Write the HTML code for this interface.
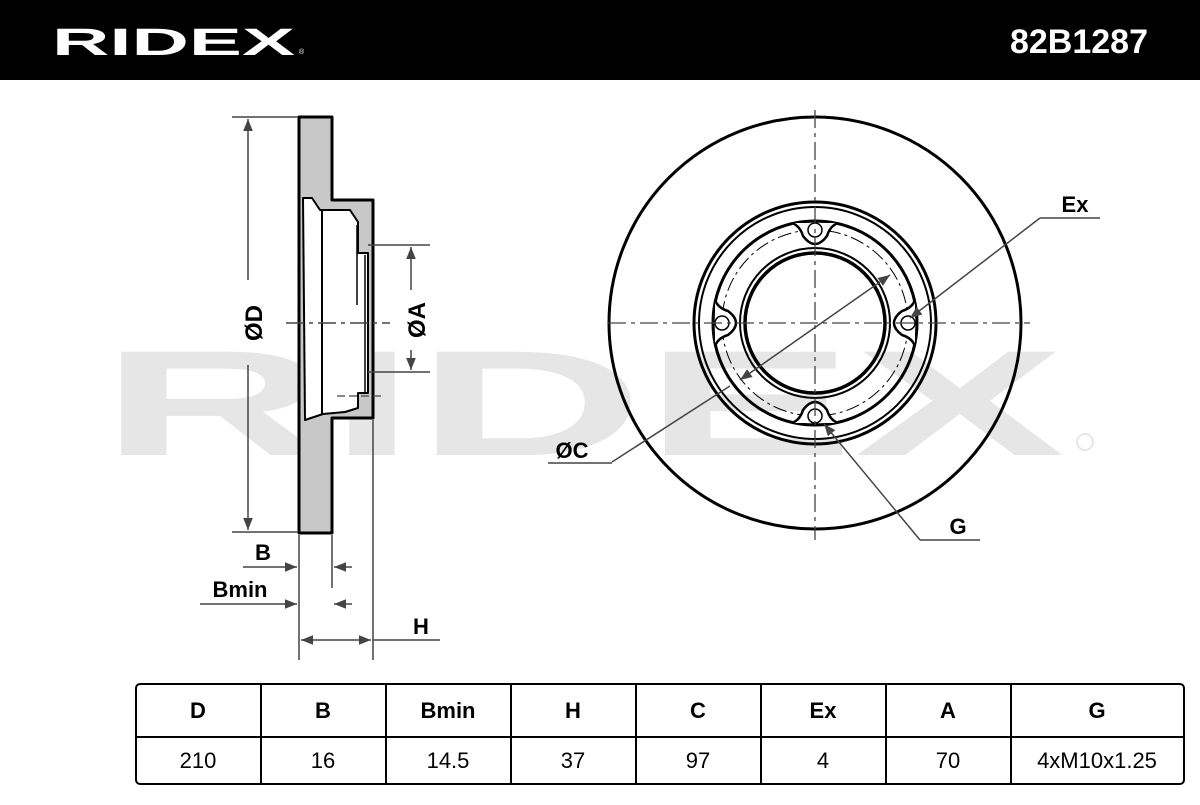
<!DOCTYPE html>
<html><head><style>
body{margin:0;width:1200px;height:800px;overflow:hidden;background:#fff;font-family:"Liberation Sans",sans-serif}
</style></head><body>
<svg width="1200" height="800" viewBox="0 0 1200 800" xmlns="http://www.w3.org/2000/svg" font-family="Liberation Sans, sans-serif">
<defs>
<marker id="ar" viewBox="0 0 10 10" refX="10" refY="5" markerWidth="12" markerHeight="12" markerUnits="userSpaceOnUse" orient="auto-start-reverse"><path d="M0,1 L10,5 L0,9 z" fill="#444"/></marker>
</defs>
<rect x="0" y="0" width="1200" height="80" fill="#000"/>
<text x="52" y="55" fill="#fff" font-size="38" font-weight="bold" textLength="243" lengthAdjust="spacingAndGlyphs">RIDEX</text>
<text x="299" y="54" fill="#fff" font-size="7">®</text>
<text x="1148" y="53" fill="#fff" font-size="34" font-weight="bold" text-anchor="end">82B1287</text>
<!-- watermark -->
<text x="100" y="455" fill="#e6e6e6" font-size="150" font-weight="bold" textLength="965" lengthAdjust="spacingAndGlyphs">RIDEX</text>
<circle cx="1085" cy="442" r="8" fill="none" stroke="#e6e6e6" stroke-width="2"/>

<!-- left profile -->
<g stroke="#000" stroke-width="3" stroke-linejoin="round">
<path d="M299,117 H332 V200 H373 V418 H332 V533 H299 Z" fill="#c8c8c8"/>
<path d="M303,198 H312 L320,210 H350 L358,222 V253 H368 V393 H358 V408 L345,412 L323,414 L305,420 Z" fill="#fff" stroke-width="2"/>
</g>
<line x1="322" y1="210" x2="322" y2="415" stroke="#000" stroke-width="2"/>
<line x1="357" y1="225" x2="357" y2="305" stroke="#000" stroke-width="1.5"/>
<line x1="365" y1="255" x2="365" y2="392" stroke="#000" stroke-width="1.5"/>
<line x1="286" y1="323" x2="390" y2="323" stroke="#444" stroke-width="1.5" stroke-dasharray="18,5,4,5"/>
<line x1="337" y1="396" x2="382" y2="396" stroke="#444" stroke-width="1.3" stroke-dasharray="8,4"/>
<!-- dimension lines -->
<g stroke="#444" stroke-width="1.5" fill="none">
<line x1="232" y1="117" x2="298" y2="117"/>
<line x1="232" y1="532" x2="298" y2="532"/>
<line x1="248" y1="119" x2="248" y2="280" marker-start="url(#ar)"/>
<line x1="248" y1="365" x2="248" y2="530" marker-end="url(#ar)"/>
<line x1="368" y1="245" x2="430" y2="245"/>
<line x1="368" y1="372" x2="430" y2="372"/>
<line x1="411" y1="247" x2="411" y2="290" marker-start="url(#ar)"/>
<line x1="411" y1="350" x2="411" y2="370" marker-end="url(#ar)"/>
<line x1="299" y1="535" x2="299" y2="660"/>
<line x1="332" y1="535" x2="332" y2="588"/>
<line x1="373" y1="420" x2="373" y2="660"/>
<line x1="243" y1="567" x2="297" y2="567" marker-end="url(#ar)"/>
<line x1="352" y1="567" x2="334" y2="567" marker-end="url(#ar)"/>
<line x1="200" y1="604" x2="297" y2="604" marker-end="url(#ar)"/>
<line x1="352" y1="604" x2="334" y2="604" marker-end="url(#ar)"/>
<line x1="301" y1="640" x2="371" y2="640" marker-start="url(#ar)" marker-end="url(#ar)"/>
<line x1="373" y1="640" x2="440" y2="640"/>
</g>
<text transform="translate(262,323) rotate(-90)" font-size="24" font-weight="bold" text-anchor="middle">ØD</text>
<text transform="translate(425,320) rotate(-90)" font-size="24" font-weight="bold" text-anchor="middle">ØA</text>
<text x="263" y="560" font-size="22" font-weight="bold" text-anchor="middle">B</text>
<text x="240" y="597" font-size="22" font-weight="bold" text-anchor="middle">Bmin</text>
<text x="421" y="634" font-size="22" font-weight="bold" text-anchor="middle">H</text>

<!-- right front view -->
<g fill="none" stroke="#000">
<circle cx="815" cy="323" r="206" stroke-width="3"/>
<circle cx="815" cy="323" r="121" stroke-width="3"/>
<circle cx="815" cy="323" r="116" stroke-width="2"/>
<circle cx="815" cy="323" r="102" stroke-width="3"/>
<circle cx="815" cy="323" r="93" stroke-width="1" stroke-dasharray="14,4,3,4"/>
<circle cx="815" cy="323" r="75" stroke-width="2"/>
<circle cx="815" cy="323" r="70" stroke-width="3.5"/>
</g>
<g fill="#fff" stroke="#000" stroke-width="2.5" stroke-linejoin="round">
<g id="lug"><path d="M792,223 Q800,226 803,236 Q815,252 827,236 Q830,226 838,223"/></g>
<use href="#lug" transform="rotate(90 815 323)"/>
<use href="#lug" transform="rotate(180 815 323)"/>
<use href="#lug" transform="rotate(270 815 323)"/>
</g>
<g fill="none" stroke="#000" stroke-width="1.5">
<circle cx="815" cy="230" r="7"/><circle cx="815" cy="416" r="7"/>
<circle cx="722" cy="323" r="7"/><circle cx="908" cy="323" r="7"/>
</g>
<g stroke="#444" stroke-width="1.3" stroke-dasharray="18,5,4,5">
<line x1="608" y1="323" x2="1030" y2="323"/>
<line x1="815" y1="110" x2="815" y2="540"/>
</g>
<g stroke="#444" stroke-width="1.5" fill="none">
<line x1="612" y1="462" x2="730" y2="386"/>
<line x1="740" y1="380" x2="890" y2="275" marker-start="url(#ar)" marker-end="url(#ar)"/>
<line x1="548" y1="463" x2="612" y2="463"/>
<line x1="1040" y1="218" x2="910" y2="318" marker-end="url(#ar)"/>
<line x1="1040" y1="218" x2="1100" y2="218"/>
<line x1="920" y1="540" x2="824" y2="424" marker-end="url(#ar)"/>
<line x1="920" y1="540" x2="980" y2="540"/>
</g>
<text x="1075" y="212" font-size="22" font-weight="bold" text-anchor="middle">Ex</text>
<text x="572" y="458" font-size="22" font-weight="bold" text-anchor="middle">ØC</text>
<text x="958" y="534" font-size="22" font-weight="bold" text-anchor="middle">G</text>

<!-- table -->
<g stroke="#000" stroke-width="2" fill="none">
<rect x="136" y="684" width="1048" height="100" rx="4"/>
<line x1="136" y1="737" x2="1184" y2="737"/>
<line x1="261" y1="684" x2="261" y2="784"/>
<line x1="386" y1="684" x2="386" y2="784"/>
<line x1="511" y1="684" x2="511" y2="784"/>
<line x1="636" y1="684" x2="636" y2="784"/>
<line x1="761" y1="684" x2="761" y2="784"/>
<line x1="886" y1="684" x2="886" y2="784"/>
<line x1="1011" y1="684" x2="1011" y2="784"/>
</g>
<g font-size="22" font-weight="bold" text-anchor="middle">
<text x="198" y="718">D</text><text x="323" y="718">B</text><text x="448" y="718">Bmin</text><text x="573" y="718">H</text>
<text x="698" y="718">C</text><text x="823" y="718">Ex</text><text x="948" y="718">A</text><text x="1097" y="718">G</text>
</g>
<g font-size="22" text-anchor="middle">
<text x="198" y="768">210</text><text x="323" y="768">16</text><text x="448" y="768">14.5</text><text x="573" y="768">37</text>
<text x="698" y="768">97</text><text x="823" y="768">4</text><text x="948" y="768">70</text><text x="1097" y="768">4xM10x1.25</text>
</g>
</svg>
</body></html>
